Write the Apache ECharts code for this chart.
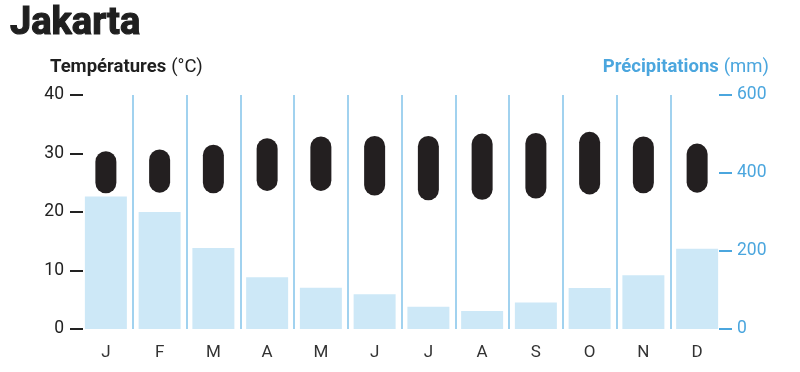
<!DOCTYPE html>
<html>
<head>
<meta charset="utf-8">
<script src="https://cdn.jsdelivr.net/npm/echarts@6/dist/echarts.min.js"></script>
<style>
html,body{margin:0;padding:0;background:#fff;}
#chart{width:800px;height:372px;}
</style>
</head>
<body>
<div id="chart"></div>
<script>
const months = ['J','F','M','A','M','J','J','A','S','O','N','D'];
const precipitation = [340, 300, 208, 133, 106, 89, 57, 46, 68, 105, 138, 206];
const tempMin = [23.2, 23.3, 23.2, 23.6, 23.6, 22.8, 22.0, 22.1, 22.3, 23.0, 23.2, 23.3];
const tempMax = [30.4, 30.7, 31.5, 32.6, 32.9, 33.0, 33.0, 33.4, 33.5, 33.7, 32.9, 31.7];
const tempTicks = [0, 10, 20, 30, 40];
const precipTicks = [0, 200, 400, 600];

const BLUE = '#4ba6de';
const FONT = 'Roboto';

const chart = echarts.init(document.getElementById('chart'), null, {renderer: 'canvas'});

const lineColors = ['rgba(0,0,0,0)'];
for (let i = 0; i < 11; i++) lineColors.push('#82c3ea');

chart.setOption({
  animation: false,
  backgroundColor: '#ffffff',
  title: [
    {text: 'Jakarta', left: 10, top: 5, padding: 0,
     textStyle: {fontFamily: FONT, fontWeight: 'bold', fontSize: 38, color: '#1f1f1f',
                 textBorderColor: '#1f1f1f', textBorderWidth: 1.2}},
    {text: '{b|Températures} {n|(°C)}', left: 50, top: 58, padding: 0,
     textStyle: {rich: {
       b: {fontFamily: FONT, fontWeight: 'bold', fontSize: 18.5, color: '#1f1f1f'},
       n: {fontFamily: FONT, fontWeight: 'normal', fontSize: 18.5, color: '#1f1f1f'}
     }}},
    {text: '{b|Précipitations} {n|(mm)}', right: 31, top: 58, padding: 0,
     textStyle: {rich: {
       b: {fontFamily: FONT, fontWeight: 'bold', fontSize: 18.5, color: BLUE},
       n: {fontFamily: FONT, fontWeight: 'normal', fontSize: 18.5, color: BLUE}
     }}}
  ],
  grid: {left: 79, top: 95, width: 645, height: 234},
  xAxis: {
    type: 'category',
    data: months,
    boundaryGap: true,
    axisLine: {show: false},
    axisTick: {show: false},
    axisLabel: {fontFamily: FONT, fontSize: 17, color: '#333', margin: 15},
    splitLine: {show: true, lineStyle: {color: lineColors, width: 1.5}}
  },
  yAxis: [
    {
      type: 'value', min: tempTicks[0], max: tempTicks[tempTicks.length - 1], interval: 10,
      position: 'left', offset: -4,
      axisLine: {show: false},
      axisTick: {show: true, length: 13, inside: false, lineStyle: {color: '#222', width: 2}},
      axisLabel: {fontFamily: FONT, fontSize: 17.5, color: '#222', margin: 19},
      splitLine: {show: false}
    },
    {
      type: 'value', min: precipTicks[0], max: precipTicks[precipTicks.length - 1], interval: 200,
      position: 'right', offset: -5,
      axisLine: {show: false},
      axisTick: {show: true, length: 13, inside: false, lineStyle: {color: BLUE, width: 2}},
      axisLabel: {fontFamily: FONT, fontSize: 17.5, color: BLUE, margin: 18},
      splitLine: {show: false}
    }
  ],
  series: [
    {
      type: 'bar', yAxisIndex: 1, data: precipitation, barWidth: 42,
      itemStyle: {color: '#cde8f7'}, z: 1, silent: true
    },
    {
      type: 'custom', yAxisIndex: 0, z: 5, silent: true,
      data: months.map((m, i) => [i, tempMin[i], tempMax[i]]),
      encode: {x: 0, y: [1, 2]},
      renderItem: function (params, api) {
        const lo = api.coord([api.value(0), api.value(1)]);
        const hi = api.coord([api.value(0), api.value(2)]);
        const w = 21;
        return {
          type: 'rect',
          shape: {x: lo[0] - w / 2, y: hi[1], width: w, height: lo[1] - hi[1], r: w / 2},
          style: {fill: '#231f20'}
        };
      }
    }
  ]
});
</script>
</body>
</html>
